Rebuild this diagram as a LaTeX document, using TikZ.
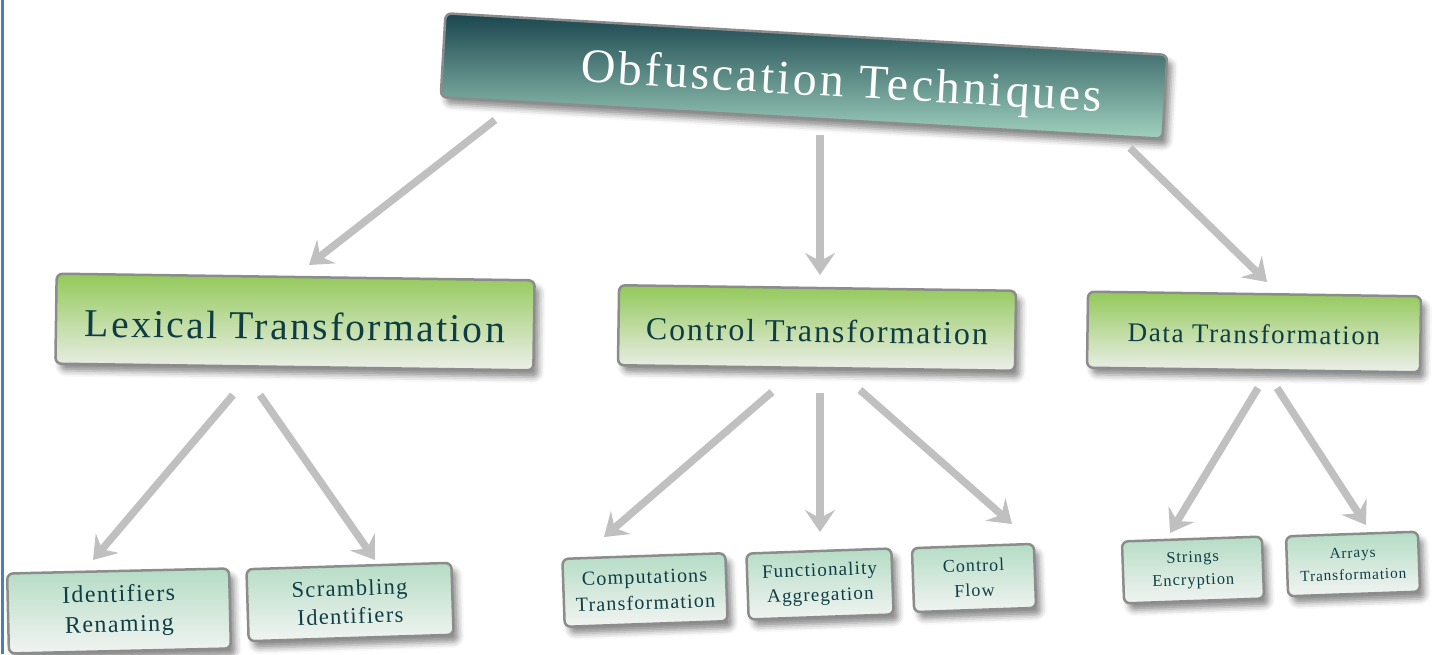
\documentclass[tikz,border=0pt]{standalone}
\usepackage{fontspec}
\setmainfont{Liberation Serif}[LetterSpace=6]
\usetikzlibrary{shadows.blur,arrows.meta}
\definecolor{topdark}{HTML}{1A454E}
\definecolor{toplight}{HTML}{A0D2BE}
\definecolor{midgreen}{HTML}{93C95A}
\definecolor{midlight}{HTML}{EDEFEB}
\definecolor{leaftop}{HTML}{B4DCC5}
\definecolor{leafbot}{HTML}{F2F4F2}
\definecolor{boxtext}{HTML}{0E3E44}
\definecolor{boxedge}{HTML}{8C8C8C}
\definecolor{arrowgray}{HTML}{C0C0C0}
\definecolor{frameblue}{HTML}{4A7EBB}
\newcommand{\lowered}[2]{\raisebox{-#1}[\height][\depth]{#2}}
\tikzset{
  basebox/.style={draw=boxedge, line width=2.5pt, rounded corners=6pt, inner sep=0pt,
    align=center,
    blur shadow={shadow xshift=5pt, shadow yshift=-7pt, shadow blur radius=6pt, shadow opacity=45}},
  topbox/.style={basebox, top color=topdark, bottom color=toplight, text=white,
    font=\fontsize{48}{56}\selectfont},
  midbox/.style={basebox, top color=midgreen, bottom color=midlight, text=boxtext},
  leafbox/.style={basebox, top color=leaftop, bottom color=leafbot, text=boxtext},
  conn/.style={draw=arrowgray, line width=7.5pt,
    -{Stealth[length=22pt, width=30pt, inset=8pt]}},
}
\begin{document}
\begin{tikzpicture}[x=1pt, y=-1pt]
\useasboundingbox (0,0) rectangle (1438,654);
\draw[frameblue, line width=3pt] (2,0) -- (2,654);

\node[topbox, minimum width=723pt, minimum height=84pt, rotate=-3.3] (top) at (804,76)
  {\hspace*{76pt}\lowered{7pt}{Obfuscation Techniques}};

\node[midbox, minimum width=478pt, minimum height=90pt, rotate=-0.8,
  font=\fontsize{39.5}{46}\selectfont] (lex) at (295,322) {\lowered{4pt}{Lexical Transformation}};
\node[midbox, minimum width=397pt, minimum height=80pt, rotate=-0.8,
  font=\fontsize{32}{38}\selectfont] (ctl) at (817,328) {\lowered{3pt}{Control Transformation}};
\node[midbox, minimum width=333pt, minimum height=76pt, rotate=-0.8,
  font=\fontsize{27}{32}\selectfont] (dat) at (1254,332) {\lowered{2pt}{Data Transformation}};

\node[leafbox, minimum width=222pt, minimum height=80pt, rotate=1.3,
  font=\fontsize{24}{30}\selectfont] (idr) at (119,611) {Identifiers\\Renaming};
\node[leafbox, minimum width=205pt, minimum height=72pt, rotate=1.8,
  font=\fontsize{22.5}{28}\selectfont] (scr) at (350,602) {Scrambling\\Identifiers};
\node[leafbox, minimum width=163pt, minimum height=68pt, rotate=2,
  font=\fontsize{20}{26}\selectfont] (cmp) at (645,590) {Computations\\Transformation};
\node[leafbox, minimum width=145pt, minimum height=66pt, rotate=2,
  font=\fontsize{19}{25}\selectfont] (fun) at (820,584) {Functionality\\Aggregation};
\node[leafbox, minimum width=122pt, minimum height=64pt, rotate=2,
  font=\fontsize{18}{25}\selectfont] (cfl) at (974,578) {Control\\Flow};
\node[leafbox, minimum width=140pt, minimum height=62pt, rotate=2,
  font=\fontsize{16.4}{23}\selectfont] (str) at (1193,570) {Strings\\Encryption};
\node[leafbox, minimum width=132pt, minimum height=60pt, rotate=2,
  font=\fontsize{15.2}{22}\selectfont] (arr) at (1353,564) {Arrays\\Transformation};

\coordinate (a1s) at (495,120);  \coordinate (a1e) at (309,265);
\coordinate (a2s) at (820,135);  \coordinate (a2e) at (820,275);
\coordinate (a3s) at (1130,148); \coordinate (a3e) at (1267,282);
\coordinate (a4s) at (233,395);  \coordinate (a4e) at (93,560);
\coordinate (a5s) at (260,395);  \coordinate (a5e) at (375,560);
\coordinate (a6s) at (772,392);  \coordinate (a6e) at (604,537);
\coordinate (a7s) at (820,393);  \coordinate (a7e) at (820,532);
\coordinate (a8s) at (860,390);  \coordinate (a8e) at (1012,524);
\coordinate (a9s) at (1258,388); \coordinate (a9e) at (1170,533);
\coordinate (a10s) at (1277,388); \coordinate (a10e) at (1366,525);

\foreach \i in {1,...,10} { \draw[conn] (a\i s) -- (a\i e); }
\end{tikzpicture}
\end{document}
